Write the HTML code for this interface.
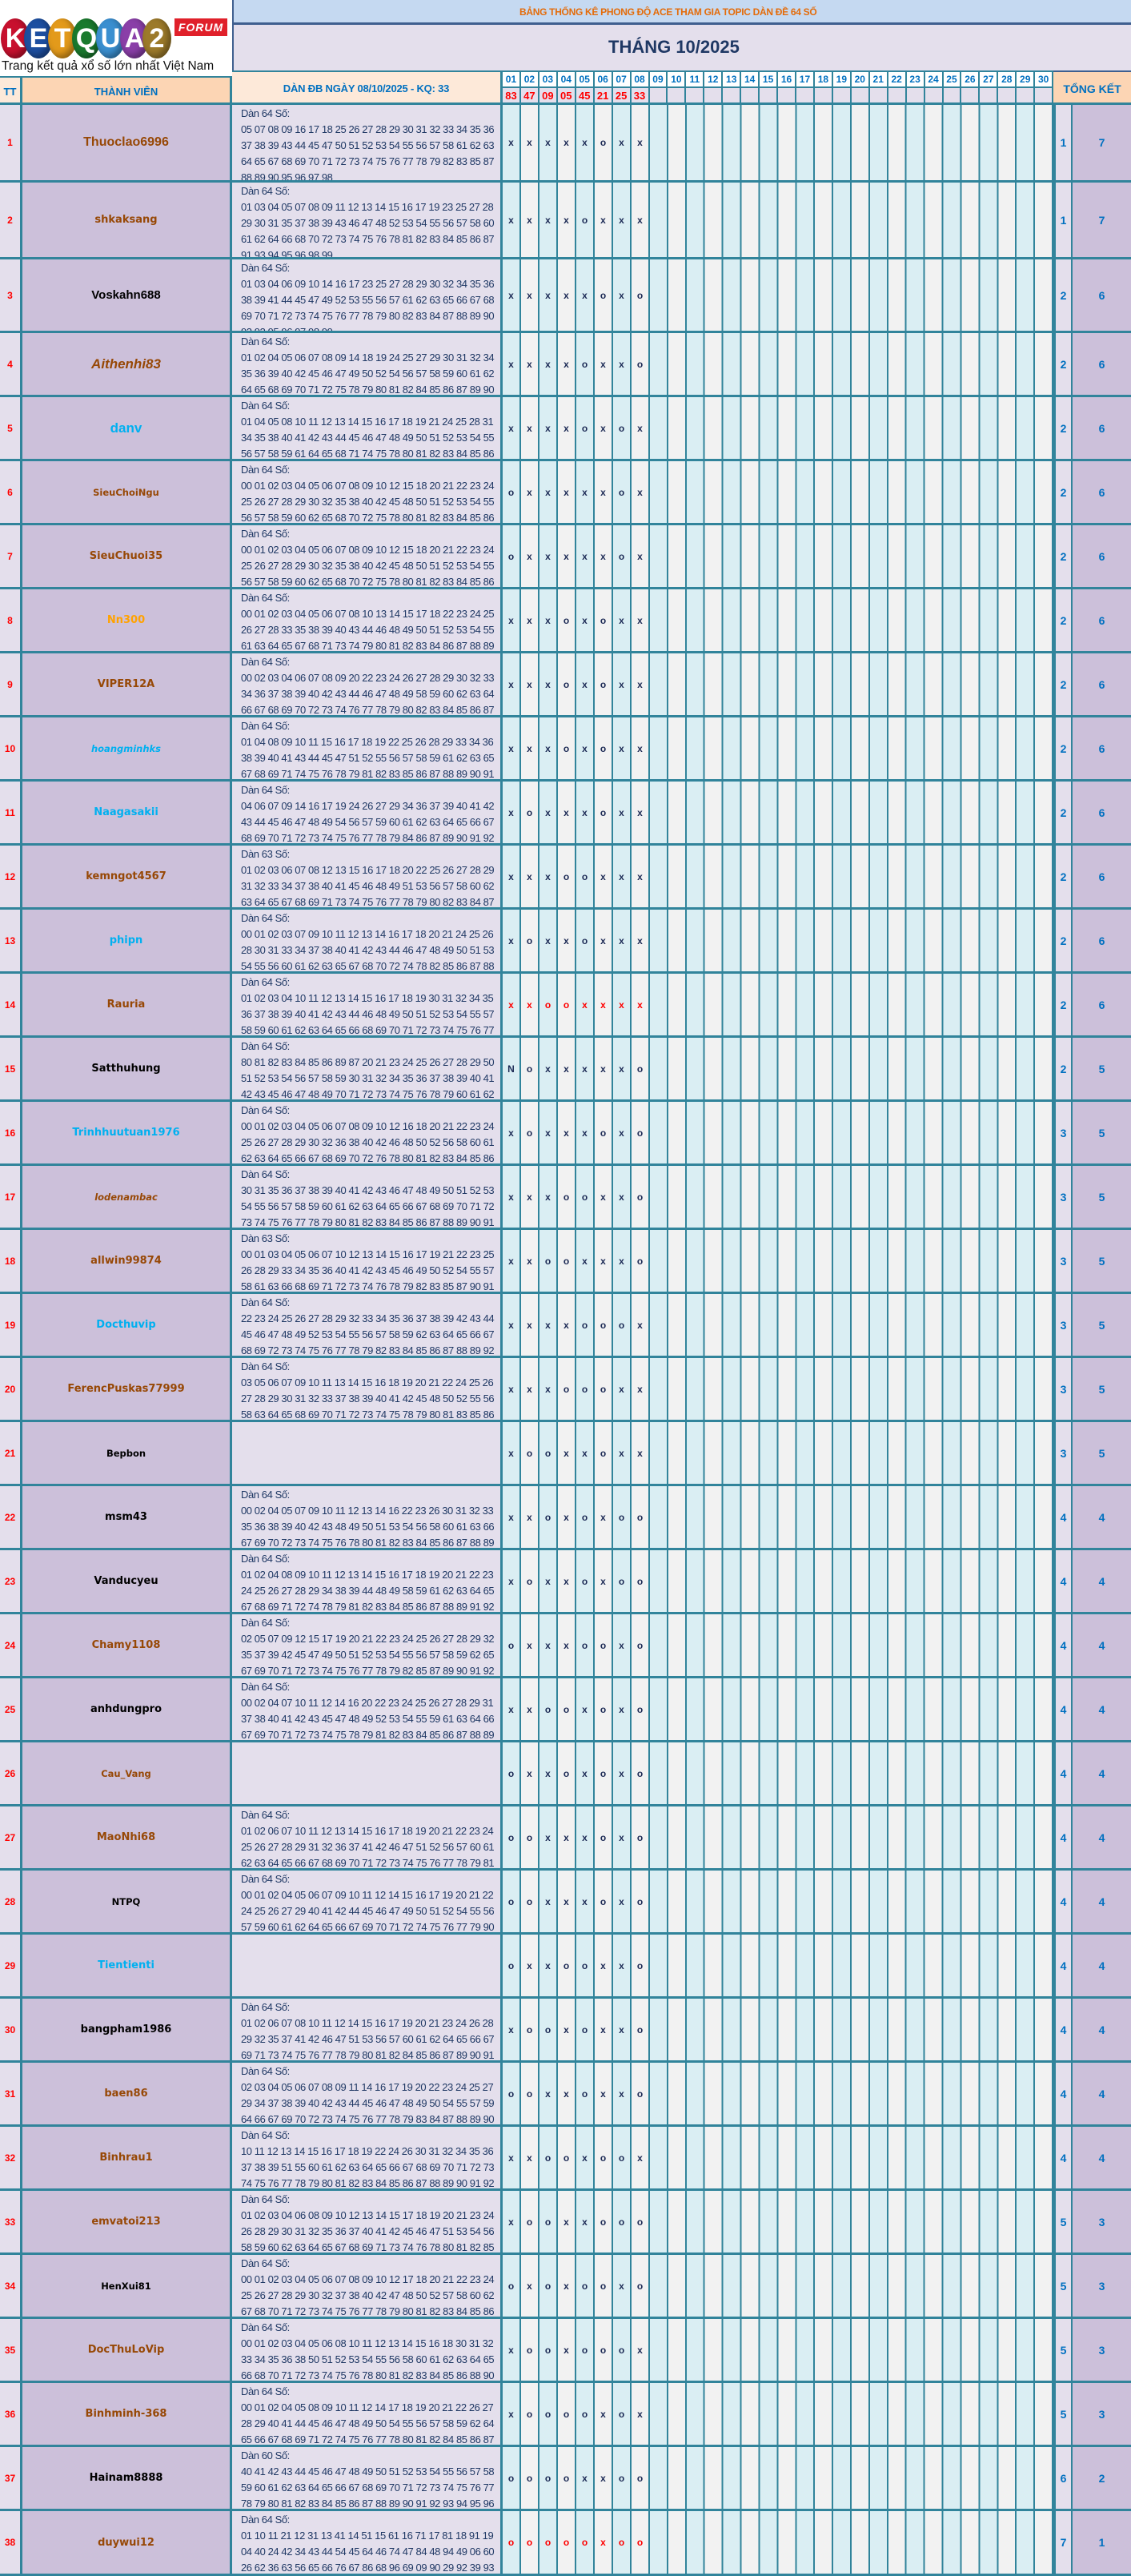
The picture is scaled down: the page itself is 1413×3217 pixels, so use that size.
<!DOCTYPE html>
<html><head><meta charset="utf-8">
<style>
body{margin:0;width:1413px;height:3217px;position:relative;background:#fff;font-family:"Liberation Sans",sans-serif;overflow:hidden}
.abs{position:absolute;box-sizing:border-box}
.r{position:absolute;left:0;width:1413px;display:flex;border-bottom:3px solid #31849b;box-sizing:border-box}
.r>div{box-sizing:border-box;height:100%;border-right:2px solid #31849b;display:flex;align-items:center;justify-content:center;flex:none}
.r>.t{width:28px;background:#e4dfec;color:#f00;font-weight:bold;font-size:12px;border-right-width:3px}
.r>.m{width:262px;background:#ccc0da;font-weight:bold;border-right-width:3px;white-space:nowrap}
.r>.d{width:338px;background:#e4dfec;display:block;padding:1px 0 0 11px;overflow:hidden;color:#1f3864;font-size:13px;line-height:20px;letter-spacing:-0.42px;white-space:nowrap;border-right-width:3px}
.r>.k{width:23px;font-weight:bold;font-size:12px;color:#1c2a55;background:#f2f2f2}
.r>.k:nth-child(even){background:#daeef3}
.red>.k{color:#f00}
.r>.z{width:504px;background:repeating-linear-gradient(90deg,#daeef3 0 20.91px,#31849b 20.91px 22.91px,#f2f2f2 22.91px 43.82px,#31849b 43.82px 45.82px);border-right:none}
.r>.a{width:24px;background:#e4dfec;border-left:3px solid #31849b;color:#0070c0;font-weight:bold;font-size:14px}
.r>.b{width:73px;background:#ccc0da;color:#0070c0;font-weight:bold;font-size:14px;border-right:none}
.c1{font-family:"Liberation Sans",sans-serif;font-size:16px}
.v{font-family:"DejaVu Sans",sans-serif;font-size:13px}
.vs{font-family:"DejaVu Sans",sans-serif;font-size:11.5px}
.i{font-style:italic}
.br{color:#974806}.bk{color:#000}.bl{color:#00b0f0}.or{color:#ffa200}
.circ{position:absolute;top:23px;width:36px;height:50px;border-radius:50%;color:#fff;font:bold 34px "Liberation Sans",sans-serif;display:flex;align-items:center;justify-content:center;box-shadow:inset -4px -4px 8px rgba(0,0,0,.35)}
.hd{display:flex;position:absolute;left:628px;width:688px}
.hd>div{flex:1;box-sizing:border-box;border-right:2px solid #31849b;display:flex;align-items:center;justify-content:center;font-weight:bold}
</style></head><body>

<!-- logo -->
<div class="abs" style="left:0;top:0;width:290px;height:95px;background:#fff"></div>
<div class="circ" style="left:1px;background:#c8102e">K</div>
<div class="circ" style="left:30px;background:#1d4fa0">E</div>
<div class="circ" style="left:60px;background:#e39a1b">T</div>
<div class="circ" style="left:90px;background:#1a7a2e">Q</div>
<div class="circ" style="left:120px;background:#3a8fd0">U</div>
<div class="circ" style="left:150px;background:#8a3fa8">A</div>
<div class="circ" style="left:178px;background:#9c7a2a">2</div>
<div class="abs" style="left:218px;top:23px;width:66px;height:22px;background:#e0202a;color:#fff;font:italic bold 14px 'Liberation Sans',sans-serif;display:flex;align-items:center;justify-content:center;letter-spacing:1px">FORUM</div>
<div class="abs" style="left:2px;top:74px;font-size:15.5px;color:#111;white-space:nowrap">Trang kết quả xổ số lớn nhất Việt Nam</div>

<!-- title bands -->
<div class="abs" style="left:290px;top:0;width:1123px;height:31px;background:#c5d9f1;border-bottom:3px solid #3f5f8f;border-left:2px solid #3f5f8f"></div>
<div class="abs" style="left:649px;top:8px;font-size:12px;font-weight:bold;color:#e46c0a;letter-spacing:-0.3px;white-space:nowrap">BẢNG THỐNG KÊ PHONG ĐỘ ACE THAM GIA TOPIC DÀN ĐỀ 64 SỐ</div>
<div class="abs" style="left:290px;top:31px;width:1123px;height:57px;background:#e4dfec;border-left:2px solid #3f5f8f"></div>
<div class="abs" style="left:760px;top:46px;font-size:22px;font-weight:bold;color:#1f3864;white-space:nowrap">THÁNG 10/2025</div>

<!-- column headers -->
<div class="abs" style="left:0;top:95px;width:28px;height:36px;background:#fde9d9;border-right:3px solid #31849b;border-top:2px solid #31849b;color:#0070c0;font-weight:bold;font-size:13px;display:flex;align-items:center;justify-content:center">TT</div>
<div class="abs" style="left:28px;top:95px;width:262px;height:36px;background:#fcd5b4;border-right:3px solid #31849b;border-top:2px solid #31849b;color:#0070c0;font-weight:bold;font-size:13px;display:flex;align-items:center;justify-content:center">THÀNH VIÊN</div>
<div class="abs" style="left:290px;top:88px;width:338px;height:43px;background:#fde9d9;border-right:3px solid #31849b;border-top:2px solid #31849b;color:#0070c0;font-weight:bold;font-size:13px;display:flex;align-items:center;justify-content:center;letter-spacing:-0.2px">DÀN ĐB NGÀY 08/10/2025 - KQ: 33</div>
<div class="abs" style="left:628px;top:88px;width:688px;height:43px;background:#31849b"></div>
<div class="hd" style="top:90px;height:18px;background:#fff;color:#0070c0;font-size:12px">
<div>01</div><div>02</div><div>03</div><div>04</div><div>05</div><div>06</div><div>07</div><div>08</div><div>09</div><div>10</div><div>11</div><div>12</div><div>13</div><div>14</div><div>15</div><div>16</div><div>17</div><div>18</div><div>19</div><div>20</div><div>21</div><div>22</div><div>23</div><div>24</div><div>25</div><div>26</div><div>27</div><div>28</div><div>29</div><div>30</div></div>
<div class="hd" style="top:110px;height:18px;background:#e4dfec;color:#f00;font-size:13px">
<div>83</div><div>47</div><div>09</div><div>05</div><div>45</div><div>21</div><div>25</div><div>33</div><div></div><div></div><div></div><div></div><div></div><div></div><div></div><div></div><div></div><div></div><div></div><div></div><div></div><div></div><div></div><div></div><div></div><div></div><div></div><div></div><div></div><div></div></div>
<div class="abs" style="left:1316px;top:88px;width:97px;height:43px;background:#fcd5b4;border-top:2px solid #3f5f8f;color:#0070c0;font-weight:bold;font-size:14px;display:flex;align-items:center;justify-content:center">TỔNG KẾT</div>
<div class="abs" style="left:0;top:128px;width:1413px;height:3px;background:#31849b"></div>

<!-- rows -->
<div class="r" style="top:131px;height:97px"><div class="t">1</div><div class="m c1 br">Thuoclao6996</div><div class="d"><div>Dàn 64 Số:</div><div>05 07 08 09 16 17 18 25 26 27 28 29 30 31 32 33 34 35 36</div><div>37 38 39 43 44 45 47 50 51 52 53 54 55 56 57 58 61 62 63</div><div>64 65 67 68 69 70 71 72 73 74 75 76 77 78 79 82 83 85 87</div><div>88 89 90 95 96 97 98</div></div><div class="k">x</div><div class="k">x</div><div class="k">x</div><div class="k">x</div><div class="k">x</div><div class="k">o</div><div class="k">x</div><div class="k">x</div><div class="z"></div><div class="a">1</div><div class="b">7</div></div>

<div class="r" style="top:228px;height:96px"><div class="t">2</div><div class="m v br">shkaksang</div><div class="d"><div>Dàn 64 Số:</div><div>01 03 04 05 07 08 09 11 12 13 14 15 16 17 19 23 25 27 28</div><div>29 30 31 35 37 38 39 43 46 47 48 52 53 54 55 56 57 58 60</div><div>61 62 64 66 68 70 72 73 74 75 76 78 81 82 83 84 85 86 87</div><div>91 93 94 95 96 98 99</div></div><div class="k">x</div><div class="k">x</div><div class="k">x</div><div class="k">x</div><div class="k">o</div><div class="k">x</div><div class="k">x</div><div class="k">x</div><div class="z"></div><div class="a">1</div><div class="b">7</div></div>

<div class="r" style="top:324px;height:92px"><div class="t">3</div><div class="m c1 bk" style="font-size:15px">Voskahn688</div><div class="d"><div>Dàn 64 Số:</div><div>01 03 04 06 09 10 14 16 17 23 25 27 28 29 30 32 34 35 36</div><div>38 39 41 44 45 47 49 52 53 55 56 57 61 62 63 65 66 67 68</div><div>69 70 71 72 73 74 75 76 77 78 79 80 82 83 84 87 88 89 90</div><div>92 93 95 96 97 98 99</div></div><div class="k">x</div><div class="k">x</div><div class="k">x</div><div class="k">x</div><div class="k">x</div><div class="k">o</div><div class="k">x</div><div class="k">o</div><div class="z"></div><div class="a">2</div><div class="b">6</div></div>

<div class="r" style="top:416px;height:80px"><div class="t">4</div><div class="m c1 i br" style="font-size:17px">Aithenhi83</div><div class="d"><div>Dàn 64 Số:</div><div>01 02 04 05 06 07 08 09 14 18 19 24 25 27 29 30 31 32 34</div><div>35 36 39 40 42 45 46 47 49 50 52 54 56 57 58 59 60 61 62</div><div>64 65 68 69 70 71 72 75 78 79 80 81 82 84 85 86 87 89 90</div></div><div class="k">x</div><div class="k">x</div><div class="k">x</div><div class="k">x</div><div class="k">o</div><div class="k">x</div><div class="k">x</div><div class="k">o</div><div class="z"></div><div class="a">2</div><div class="b">6</div></div>

<div class="r" style="top:496px;height:80px"><div class="t">5</div><div class="m c1 bl" style="font-size:17px">danv</div><div class="d"><div>Dàn 64 Số:</div><div>01 04 05 08 10 11 12 13 14 15 16 17 18 19 21 24 25 28 31</div><div>34 35 38 40 41 42 43 44 45 46 47 48 49 50 51 52 53 54 55</div><div>56 57 58 59 61 64 65 68 71 74 75 78 80 81 82 83 84 85 86</div></div><div class="k">x</div><div class="k">x</div><div class="k">x</div><div class="k">x</div><div class="k">o</div><div class="k">x</div><div class="k">o</div><div class="k">x</div><div class="z"></div><div class="a">2</div><div class="b">6</div></div>

<div class="r" style="top:576px;height:80px"><div class="t">6</div><div class="m vs br">SieuChoiNgu</div><div class="d"><div>Dàn 64 Số:</div><div>00 01 02 03 04 05 06 07 08 09 10 12 15 18 20 21 22 23 24</div><div>25 26 27 28 29 30 32 35 38 40 42 45 48 50 51 52 53 54 55</div><div>56 57 58 59 60 62 65 68 70 72 75 78 80 81 82 83 84 85 86</div></div><div class="k">o</div><div class="k">x</div><div class="k">x</div><div class="k">x</div><div class="k">x</div><div class="k">x</div><div class="k">o</div><div class="k">x</div><div class="z"></div><div class="a">2</div><div class="b">6</div></div>

<div class="r" style="top:656px;height:80px"><div class="t">7</div><div class="m v br">SieuChuoi35</div><div class="d"><div>Dàn 64 Số:</div><div>00 01 02 03 04 05 06 07 08 09 10 12 15 18 20 21 22 23 24</div><div>25 26 27 28 29 30 32 35 38 40 42 45 48 50 51 52 53 54 55</div><div>56 57 58 59 60 62 65 68 70 72 75 78 80 81 82 83 84 85 86</div></div><div class="k">o</div><div class="k">x</div><div class="k">x</div><div class="k">x</div><div class="k">x</div><div class="k">x</div><div class="k">o</div><div class="k">x</div><div class="z"></div><div class="a">2</div><div class="b">6</div></div>

<div class="r" style="top:736px;height:80px"><div class="t">8</div><div class="m v or">Nn300</div><div class="d"><div>Dàn 64 Số:</div><div>00 01 02 03 04 05 06 07 08 10 13 14 15 17 18 22 23 24 25</div><div>26 27 28 33 35 38 39 40 43 44 46 48 49 50 51 52 53 54 55</div><div>61 63 64 65 67 68 71 73 74 79 80 81 82 83 84 86 87 88 89</div></div><div class="k">x</div><div class="k">x</div><div class="k">x</div><div class="k">o</div><div class="k">x</div><div class="k">o</div><div class="k">x</div><div class="k">x</div><div class="z"></div><div class="a">2</div><div class="b">6</div></div>

<div class="r" style="top:816px;height:80px"><div class="t">9</div><div class="m v br">VIPER12A</div><div class="d"><div>Dàn 64 Số:</div><div>00 02 03 04 06 07 08 09 20 22 23 24 26 27 28 29 30 32 33</div><div>34 36 37 38 39 40 42 43 44 46 47 48 49 58 59 60 62 63 64</div><div>66 67 68 69 70 72 73 74 76 77 78 79 80 82 83 84 85 86 87</div></div><div class="k">x</div><div class="k">x</div><div class="k">x</div><div class="k">o</div><div class="k">x</div><div class="k">o</div><div class="k">x</div><div class="k">x</div><div class="z"></div><div class="a">2</div><div class="b">6</div></div>

<div class="r" style="top:896px;height:80px"><div class="t">10</div><div class="m vs i bl">hoangminhks</div><div class="d"><div>Dàn 64 Số:</div><div>01 04 08 09 10 11 15 16 17 18 19 22 25 26 28 29 33 34 36</div><div>38 39 40 41 43 44 45 47 51 52 55 56 57 58 59 61 62 63 65</div><div>67 68 69 71 74 75 76 78 79 81 82 83 85 86 87 88 89 90 91</div></div><div class="k">x</div><div class="k">x</div><div class="k">x</div><div class="k">o</div><div class="k">x</div><div class="k">o</div><div class="k">x</div><div class="k">x</div><div class="z"></div><div class="a">2</div><div class="b">6</div></div>

<div class="r" style="top:976px;height:80px"><div class="t">11</div><div class="m v bl">Naagasakii</div><div class="d"><div>Dàn 64 Số:</div><div>04 06 07 09 14 16 17 19 24 26 27 29 34 36 37 39 40 41 42</div><div>43 44 45 46 47 48 49 54 56 57 59 60 61 62 63 64 65 66 67</div><div>68 69 70 71 72 73 74 75 76 77 78 79 84 86 87 89 90 91 92</div></div><div class="k">x</div><div class="k">o</div><div class="k">x</div><div class="k">x</div><div class="k">x</div><div class="k">o</div><div class="k">x</div><div class="k">x</div><div class="z"></div><div class="a">2</div><div class="b">6</div></div>

<div class="r" style="top:1056px;height:80px"><div class="t">12</div><div class="m v br">kemngot4567</div><div class="d"><div>Dàn 63 Số:</div><div>01 02 03 06 07 08 12 13 15 16 17 18 20 22 25 26 27 28 29</div><div>31 32 33 34 37 38 40 41 45 46 48 49 51 53 56 57 58 60 62</div><div>63 64 65 67 68 69 71 73 74 75 76 77 78 79 80 82 83 84 87</div></div><div class="k">x</div><div class="k">x</div><div class="k">x</div><div class="k">o</div><div class="k">o</div><div class="k">x</div><div class="k">x</div><div class="k">x</div><div class="z"></div><div class="a">2</div><div class="b">6</div></div>

<div class="r" style="top:1136px;height:80px"><div class="t">13</div><div class="m v bl">phipn</div><div class="d"><div>Dàn 64 Số:</div><div>00 01 02 03 07 09 10 11 12 13 14 16 17 18 20 21 24 25 26</div><div>28 30 31 33 34 37 38 40 41 42 43 44 46 47 48 49 50 51 53</div><div>54 55 56 60 61 62 63 65 67 68 70 72 74 78 82 85 86 87 88</div></div><div class="k">x</div><div class="k">o</div><div class="k">x</div><div class="k">x</div><div class="k">o</div><div class="k">x</div><div class="k">x</div><div class="k">x</div><div class="z"></div><div class="a">2</div><div class="b">6</div></div>

<div class="r red" style="top:1216px;height:80px"><div class="t">14</div><div class="m v br">Rauria</div><div class="d"><div>Dàn 64 Số:</div><div>01 02 03 04 10 11 12 13 14 15 16 17 18 19 30 31 32 34 35</div><div>36 37 38 39 40 41 42 43 44 46 48 49 50 51 52 53 54 55 57</div><div>58 59 60 61 62 63 64 65 66 68 69 70 71 72 73 74 75 76 77</div></div><div class="k">x</div><div class="k">x</div><div class="k">o</div><div class="k">o</div><div class="k">x</div><div class="k">x</div><div class="k">x</div><div class="k">x</div><div class="z"></div><div class="a">2</div><div class="b">6</div></div>

<div class="r" style="top:1296px;height:80px"><div class="t">15</div><div class="m v bk">Satthuhung</div><div class="d"><div>Dàn 64 Số:</div><div>80 81 82 83 84 85 86 89 87 20 21 23 24 25 26 27 28 29 50</div><div>51 52 53 54 56 57 58 59 30 31 32 34 35 36 37 38 39 40 41</div><div>42 43 45 46 47 48 49 70 71 72 73 74 75 76 78 79 60 61 62</div></div><div class="k">N</div><div class="k">o</div><div class="k">x</div><div class="k">x</div><div class="k">x</div><div class="k">x</div><div class="k">x</div><div class="k">o</div><div class="z"></div><div class="a">2</div><div class="b">5</div></div>

<div class="r" style="top:1376px;height:80px"><div class="t">16</div><div class="m v bl">Trinhhuutuan1976</div><div class="d"><div>Dàn 64 Số:</div><div>00 01 02 03 04 05 06 07 08 09 10 12 16 18 20 21 22 23 24</div><div>25 26 27 28 29 30 32 36 38 40 42 46 48 50 52 56 58 60 61</div><div>62 63 64 65 66 67 68 69 70 72 76 78 80 81 82 83 84 85 86</div></div><div class="k">x</div><div class="k">o</div><div class="k">x</div><div class="k">x</div><div class="k">x</div><div class="k">o</div><div class="k">x</div><div class="k">o</div><div class="z"></div><div class="a">3</div><div class="b">5</div></div>

<div class="r" style="top:1456px;height:80px"><div class="t">17</div><div class="m vs i br">lodenambac</div><div class="d"><div>Dàn 64 Số:</div><div>30 31 35 36 37 38 39 40 41 42 43 46 47 48 49 50 51 52 53</div><div>54 55 56 57 58 59 60 61 62 63 64 65 66 67 68 69 70 71 72</div><div>73 74 75 76 77 78 79 80 81 82 83 84 85 86 87 88 89 90 91</div></div><div class="k">x</div><div class="k">x</div><div class="k">x</div><div class="k">o</div><div class="k">o</div><div class="k">x</div><div class="k">x</div><div class="k">o</div><div class="z"></div><div class="a">3</div><div class="b">5</div></div>

<div class="r" style="top:1536px;height:80px"><div class="t">18</div><div class="m v br">allwin99874</div><div class="d"><div>Dàn 63 Số:</div><div>00 01 03 04 05 06 07 10 12 13 14 15 16 17 19 21 22 23 25</div><div>26 28 29 33 34 35 36 40 41 42 43 45 46 49 50 52 54 55 57</div><div>58 61 63 66 68 69 71 72 73 74 76 78 79 82 83 85 87 90 91</div></div><div class="k">x</div><div class="k">x</div><div class="k">o</div><div class="k">o</div><div class="k">x</div><div class="k">x</div><div class="k">x</div><div class="k">o</div><div class="z"></div><div class="a">3</div><div class="b">5</div></div>

<div class="r" style="top:1616px;height:80px"><div class="t">19</div><div class="m v bl">Docthuvip</div><div class="d"><div>Dàn 64 Số:</div><div>22 23 24 25 26 27 28 29 32 33 34 35 36 37 38 39 42 43 44</div><div>45 46 47 48 49 52 53 54 55 56 57 58 59 62 63 64 65 66 67</div><div>68 69 72 73 74 75 76 77 78 79 82 83 84 85 86 87 88 89 92</div></div><div class="k">x</div><div class="k">x</div><div class="k">x</div><div class="k">x</div><div class="k">o</div><div class="k">o</div><div class="k">o</div><div class="k">x</div><div class="z"></div><div class="a">3</div><div class="b">5</div></div>

<div class="r" style="top:1696px;height:80px"><div class="t">20</div><div class="m v br">FerencPuskas77999</div><div class="d"><div>Dàn 64 Số:</div><div>03 05 06 07 09 10 11 13 14 15 16 18 19 20 21 22 24 25 26</div><div>27 28 29 30 31 32 33 37 38 39 40 41 42 45 48 50 52 55 56</div><div>58 63 64 65 68 69 70 71 72 73 74 75 78 79 80 81 83 85 86</div></div><div class="k">x</div><div class="k">x</div><div class="k">x</div><div class="k">o</div><div class="k">o</div><div class="k">o</div><div class="k">x</div><div class="k">x</div><div class="z"></div><div class="a">3</div><div class="b">5</div></div>

<div class="r" style="top:1776px;height:80px"><div class="t">21</div><div class="m vs bk">Bepbon</div><div class="d"></div><div class="k">x</div><div class="k">o</div><div class="k">o</div><div class="k">x</div><div class="k">x</div><div class="k">o</div><div class="k">x</div><div class="k">x</div><div class="z"></div><div class="a">3</div><div class="b">5</div></div>

<div class="r" style="top:1856px;height:80px"><div class="t">22</div><div class="m v bk">msm43</div><div class="d"><div>Dàn 64 Số:</div><div>00 02 04 05 07 09 10 11 12 13 14 16 22 23 26 30 31 32 33</div><div>35 36 38 39 40 42 43 48 49 50 51 53 54 56 58 60 61 63 66</div><div>67 69 70 72 73 74 75 76 78 80 81 82 83 84 85 86 87 88 89</div></div><div class="k">x</div><div class="k">x</div><div class="k">o</div><div class="k">x</div><div class="k">o</div><div class="k">x</div><div class="k">o</div><div class="k">o</div><div class="z"></div><div class="a">4</div><div class="b">4</div></div>

<div class="r" style="top:1936px;height:80px"><div class="t">23</div><div class="m v bk">Vanducyeu</div><div class="d"><div>Dàn 64 Số:</div><div>01 02 04 08 09 10 11 12 13 14 15 16 17 18 19 20 21 22 23</div><div>24 25 26 27 28 29 34 38 39 44 48 49 58 59 61 62 63 64 65</div><div>67 68 69 71 72 74 78 79 81 82 83 84 85 86 87 88 89 91 92</div></div><div class="k">x</div><div class="k">o</div><div class="k">x</div><div class="k">x</div><div class="k">o</div><div class="k">x</div><div class="k">o</div><div class="k">o</div><div class="z"></div><div class="a">4</div><div class="b">4</div></div>

<div class="r" style="top:2016px;height:80px"><div class="t">24</div><div class="m v br">Chamy1108</div><div class="d"><div>Dàn 64 Số:</div><div>02 05 07 09 12 15 17 19 20 21 22 23 24 25 26 27 28 29 32</div><div>35 37 39 42 45 47 49 50 51 52 53 54 55 56 57 58 59 62 65</div><div>67 69 70 71 72 73 74 75 76 77 78 79 82 85 87 89 90 91 92</div></div><div class="k">o</div><div class="k">x</div><div class="k">x</div><div class="k">x</div><div class="k">o</div><div class="k">o</div><div class="k">x</div><div class="k">o</div><div class="z"></div><div class="a">4</div><div class="b">4</div></div>

<div class="r" style="top:2096px;height:80px"><div class="t">25</div><div class="m v bk">anhdungpro</div><div class="d"><div>Dàn 64 Số:</div><div>00 02 04 07 10 11 12 14 16 20 22 23 24 25 26 27 28 29 31</div><div>37 38 40 41 42 43 45 47 48 49 52 53 54 55 59 61 63 64 66</div><div>67 69 70 71 72 73 74 75 78 79 81 82 83 84 85 86 87 88 89</div></div><div class="k">x</div><div class="k">x</div><div class="k">o</div><div class="k">o</div><div class="k">x</div><div class="k">o</div><div class="k">x</div><div class="k">o</div><div class="z"></div><div class="a">4</div><div class="b">4</div></div>

<div class="r" style="top:2176px;height:80px"><div class="t">26</div><div class="m vs br">Cau_Vang</div><div class="d"></div><div class="k">o</div><div class="k">x</div><div class="k">x</div><div class="k">o</div><div class="k">x</div><div class="k">o</div><div class="k">x</div><div class="k">o</div><div class="z"></div><div class="a">4</div><div class="b">4</div></div>

<div class="r" style="top:2256px;height:80px"><div class="t">27</div><div class="m v br">MaoNhi68</div><div class="d"><div>Dàn 64 Số:</div><div>01 02 06 07 10 11 12 13 14 15 16 17 18 19 20 21 22 23 24</div><div>25 26 27 28 29 31 32 36 37 41 42 46 47 51 52 56 57 60 61</div><div>62 63 64 65 66 67 68 69 70 71 72 73 74 75 76 77 78 79 81</div></div><div class="k">o</div><div class="k">o</div><div class="k">x</div><div class="k">x</div><div class="k">x</div><div class="k">o</div><div class="k">x</div><div class="k">o</div><div class="z"></div><div class="a">4</div><div class="b">4</div></div>

<div class="r" style="top:2336px;height:80px"><div class="t">28</div><div class="m vs bk">NTPQ</div><div class="d"><div>Dàn 64 Số:</div><div>00 01 02 04 05 06 07 09 10 11 12 14 15 16 17 19 20 21 22</div><div>24 25 26 27 29 40 41 42 44 45 46 47 49 50 51 52 54 55 56</div><div>57 59 60 61 62 64 65 66 67 69 70 71 72 74 75 76 77 79 90</div></div><div class="k">o</div><div class="k">o</div><div class="k">x</div><div class="k">x</div><div class="k">x</div><div class="k">o</div><div class="k">x</div><div class="k">o</div><div class="z"></div><div class="a">4</div><div class="b">4</div></div>

<div class="r" style="top:2416px;height:80px"><div class="t">29</div><div class="m v bl">Tientienti</div><div class="d"></div><div class="k">o</div><div class="k">x</div><div class="k">x</div><div class="k">o</div><div class="k">o</div><div class="k">x</div><div class="k">x</div><div class="k">o</div><div class="z"></div><div class="a">4</div><div class="b">4</div></div>

<div class="r" style="top:2496px;height:80px"><div class="t">30</div><div class="m v bk">bangpham1986</div><div class="d"><div>Dàn 64 Số:</div><div>01 02 06 07 08 10 11 12 14 15 16 17 19 20 21 23 24 26 28</div><div>29 32 35 37 41 42 46 47 51 53 56 57 60 61 62 64 65 66 67</div><div>69 71 73 74 75 76 77 78 79 80 81 82 84 85 86 87 89 90 91</div></div><div class="k">x</div><div class="k">o</div><div class="k">o</div><div class="k">x</div><div class="k">o</div><div class="k">x</div><div class="k">x</div><div class="k">o</div><div class="z"></div><div class="a">4</div><div class="b">4</div></div>

<div class="r" style="top:2576px;height:80px"><div class="t">31</div><div class="m v br">baen86</div><div class="d"><div>Dàn 64 Số:</div><div>02 03 04 05 06 07 08 09 11 14 16 17 19 20 22 23 24 25 27</div><div>29 34 37 38 39 40 42 43 44 45 46 47 48 49 50 54 55 57 59</div><div>64 66 67 69 70 72 73 74 75 76 77 78 79 83 84 87 88 89 90</div></div><div class="k">o</div><div class="k">o</div><div class="k">x</div><div class="k">x</div><div class="k">o</div><div class="k">x</div><div class="k">x</div><div class="k">o</div><div class="z"></div><div class="a">4</div><div class="b">4</div></div>

<div class="r" style="top:2656px;height:80px"><div class="t">32</div><div class="m v br">Binhrau1</div><div class="d"><div>Dàn 64 Số:</div><div>10 11 12 13 14 15 16 17 18 19 22 24 26 30 31 32 34 35 36</div><div>37 38 39 51 55 60 61 62 63 64 65 66 67 68 69 70 71 72 73</div><div>74 75 76 77 78 79 80 81 82 83 84 85 86 87 88 89 90 91 92</div></div><div class="k">x</div><div class="k">x</div><div class="k">o</div><div class="k">o</div><div class="k">x</div><div class="k">o</div><div class="k">o</div><div class="k">x</div><div class="z"></div><div class="a">4</div><div class="b">4</div></div>

<div class="r" style="top:2736px;height:80px"><div class="t">33</div><div class="m v br">emvatoi213</div><div class="d"><div>Dàn 64 Số:</div><div>01 02 03 04 06 08 09 10 12 13 14 15 17 18 19 20 21 23 24</div><div>26 28 29 30 31 32 35 36 37 40 41 42 45 46 47 51 53 54 56</div><div>58 59 60 62 63 64 65 67 68 69 71 73 74 76 78 80 81 82 85</div></div><div class="k">x</div><div class="k">o</div><div class="k">o</div><div class="k">x</div><div class="k">x</div><div class="k">o</div><div class="k">o</div><div class="k">o</div><div class="z"></div><div class="a">5</div><div class="b">3</div></div>

<div class="r" style="top:2816px;height:80px"><div class="t">34</div><div class="m vs bk">HenXui81</div><div class="d"><div>Dàn 64 Số:</div><div>00 01 02 03 04 05 06 07 08 09 10 12 17 18 20 21 22 23 24</div><div>25 26 27 28 29 30 32 37 38 40 42 47 48 50 52 57 58 60 62</div><div>67 68 70 71 72 73 74 75 76 77 78 79 80 81 82 83 84 85 86</div></div><div class="k">o</div><div class="k">x</div><div class="k">o</div><div class="k">x</div><div class="k">o</div><div class="k">o</div><div class="k">x</div><div class="k">o</div><div class="z"></div><div class="a">5</div><div class="b">3</div></div>

<div class="r" style="top:2896px;height:80px"><div class="t">35</div><div class="m v br">DocThuLoVip</div><div class="d"><div>Dàn 64 Số:</div><div>00 01 02 03 04 05 06 08 10 11 12 13 14 15 16 18 30 31 32</div><div>33 34 35 36 38 50 51 52 53 54 55 56 58 60 61 62 63 64 65</div><div>66 68 70 71 72 73 74 75 76 78 80 81 82 83 84 85 86 88 90</div></div><div class="k">x</div><div class="k">o</div><div class="k">o</div><div class="k">x</div><div class="k">o</div><div class="k">o</div><div class="k">o</div><div class="k">x</div><div class="z"></div><div class="a">5</div><div class="b">3</div></div>

<div class="r" style="top:2976px;height:80px"><div class="t">36</div><div class="m v br">Binhminh-368</div><div class="d"><div>Dàn 64 Số:</div><div>00 01 02 04 05 08 09 10 11 12 14 17 18 19 20 21 22 26 27</div><div>28 29 40 41 44 45 46 47 48 49 50 54 55 56 57 58 59 62 64</div><div>65 66 67 68 69 71 72 74 75 76 77 78 80 81 82 84 85 86 87</div></div><div class="k">x</div><div class="k">o</div><div class="k">o</div><div class="k">o</div><div class="k">o</div><div class="k">x</div><div class="k">o</div><div class="k">x</div><div class="z"></div><div class="a">5</div><div class="b">3</div></div>

<div class="r" style="top:3056px;height:80px"><div class="t">37</div><div class="m v bk">Hainam8888</div><div class="d"><div>Dàn 60 Số:</div><div>40 41 42 43 44 45 46 47 48 49 50 51 52 53 54 55 56 57 58</div><div>59 60 61 62 63 64 65 66 67 68 69 70 71 72 73 74 75 76 77</div><div>78 79 80 81 82 83 84 85 86 87 88 89 90 91 92 93 94 95 96</div></div><div class="k">o</div><div class="k">o</div><div class="k">o</div><div class="k">o</div><div class="k">x</div><div class="k">x</div><div class="k">o</div><div class="k">o</div><div class="z"></div><div class="a">6</div><div class="b">2</div></div>

<div class="r red" style="top:3136px;height:81px"><div class="t">38</div><div class="m v br">duywui12</div><div class="d"><div>Dàn 64 Số:</div><div>01 10 11 21 12 31 13 41 14 51 15 61 16 71 17 81 18 91 19</div><div>04 40 24 42 34 43 44 54 45 64 46 74 47 84 48 94 49 06 60</div><div>26 62 36 63 56 65 66 76 67 86 68 96 69 09 90 29 92 39 93</div></div><div class="k">o</div><div class="k">o</div><div class="k">o</div><div class="k">o</div><div class="k">o</div><div class="k">x</div><div class="k">o</div><div class="k">o</div><div class="z"></div><div class="a">7</div><div class="b">1</div></div>

</body></html>
